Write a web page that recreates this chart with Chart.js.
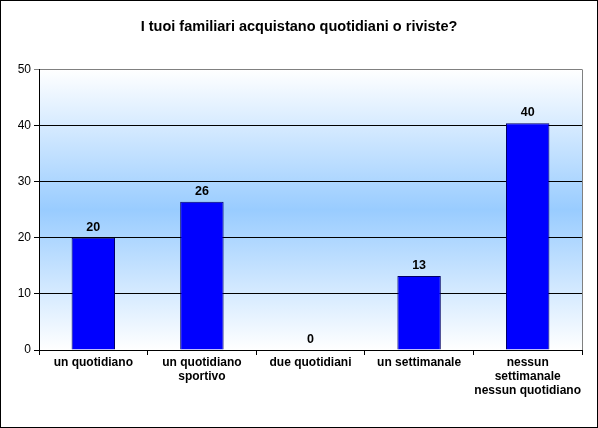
<!DOCTYPE html>
<html>
<head>
<meta charset="utf-8">
<script src="https://cdn.jsdelivr.net/npm/chart.js@4/dist/chart.umd.min.js"></script>
<style>
  html, body { margin: 0; padding: 0; background: #fff; }
  #wrap { width: 598px; height: 428px; position: relative; }
</style>
</head>
<body>
<div id="wrap"><canvas id="canvas" width="598" height="428"></canvas></div>
<script>
var titolo = "I tuoi familiari acquistano quotidiani o riviste?";
var categorie = [
	"un quotidiano",
	["un quotidiano", "sportivo"],
	"due quotidiani",
	"un settimanale",
	["nessun", "settimanale", "nessun quotidiano"]
];
var valori = [20, 26.4, 0, 13.2, 40.4];
var yTicks = [0, 10, 20, 30, 40, 50];

var FONT = "'Liberation Sans', Arial, sans-serif";

// sfondo sfumato dell'area del grafico + bordo esterno
var sfondo = {
	id: "sfondo",
	beforeDraw: function(chart){
		var ctx = chart.ctx, a = chart.chartArea;
		var g = ctx.createLinearGradient(0, a.top, 0, a.bottom);
		g.addColorStop(0, "#ffffff");
		g.addColorStop(0.5, "#99ccff");
		g.addColorStop(1, "#ffffff");
		ctx.save();
		ctx.fillStyle = g;
		ctx.fillRect(a.left, a.top, a.right - a.left, a.bottom - a.top);
		ctx.restore();
	},
	afterDraw: function(chart){
		var ctx = chart.ctx, a = chart.chartArea;
		ctx.save();
		ctx.strokeStyle = "#808080";
		ctx.lineWidth = 1;
		ctx.beginPath();
		ctx.moveTo(Math.round(a.right) + 0.5, a.top);
		ctx.lineTo(Math.round(a.right) + 0.5, a.bottom);
		ctx.stroke();
		ctx.strokeStyle = "#000";
		ctx.strokeRect(0.5, 0.5, chart.width - 1, chart.height - 1);
		ctx.restore();
	}
};

// etichette dei valori sopra le barre
var etichette = {
	id: "etichette",
	afterDatasetsDraw: function(chart){
		var ctx = chart.ctx;
		var meta = chart.getDatasetMeta(0);
		ctx.save();
		ctx.font = "bold 12.5px " + FONT;
		ctx.fillStyle = "#000";
		ctx.textAlign = "center";
		ctx.textBaseline = "bottom";
		for(var i = 0; i < meta.data.length; i++){
			var bar = meta.data[i];
			ctx.fillText(Math.round(valori[i]), bar.x, bar.y - 4);
		}
		ctx.restore();
	}
};

var ctx = document.getElementById("canvas").getContext("2d");
var chart = new Chart(ctx, {
	type: "bar",
	data: {
		labels: categorie,
		datasets: [{
			data: valori,
			backgroundColor: "#0000ff",
			borderColor: "#000066",
			borderWidth: 1,
			categoryPercentage: 0.8,
			barPercentage: 0.5
		}]
	},
	options: {
		responsive: false,
		animation: false,
		layout: { padding: { left: 1, right: 1, top: 0, bottom: 1 } },
		plugins: {
			legend: { display: false },
			tooltip: { enabled: false },
			title: {
				display: true,
				text: titolo,
				color: "#000",
				font: { family: FONT, size: 14.5, weight: "bold" },
				padding: { top: 18, bottom: 34 }
			}
		},
		scales: {
			x: {
				grid: {
					display: true,
					drawOnChartArea: false,
					drawTicks: true,
					tickLength: 5,
					color: "#000",
					offset: true
				},
				border: { color: "#000", width: 1 },
				ticks: {
					color: "#000",
					font: { family: FONT, size: 12, weight: "bold", lineHeight: 1.15 },
					padding: 1,
					maxRotation: 0,
					autoSkip: false
				},
				afterFit: function(s){ s.height = 77; }
			},
			y: {
				min: 0,
				max: 50,
				afterBuildTicks: function(s){
					s.ticks = yTicks.map(function(v){ return { value: v }; });
				},
				grid: {
					color: function(c){ return c.tick && c.tick.value === 50 ? "#808080" : "#000"; },
					tickLength: 5,
					drawTicks: true
				},
				border: { color: "#000", width: 1 },
				ticks: {
					color: "#000",
					font: { family: FONT, size: 12 },
					padding: 3
				},
				afterFit: function(s){ s.width = 38; }
			},
			// asse vuoto a destra, solo per lasciare il margine
			spazio: {
				position: "right",
				display: true,
				min: 0,
				max: 50,
				grid: { display: false },
				border: { display: false },
				ticks: { display: false },
				afterFit: function(s){ s.width = 15; }
			}
		}
	},
	plugins: [sfondo, etichette]
});
</script>
</body>
</html>
